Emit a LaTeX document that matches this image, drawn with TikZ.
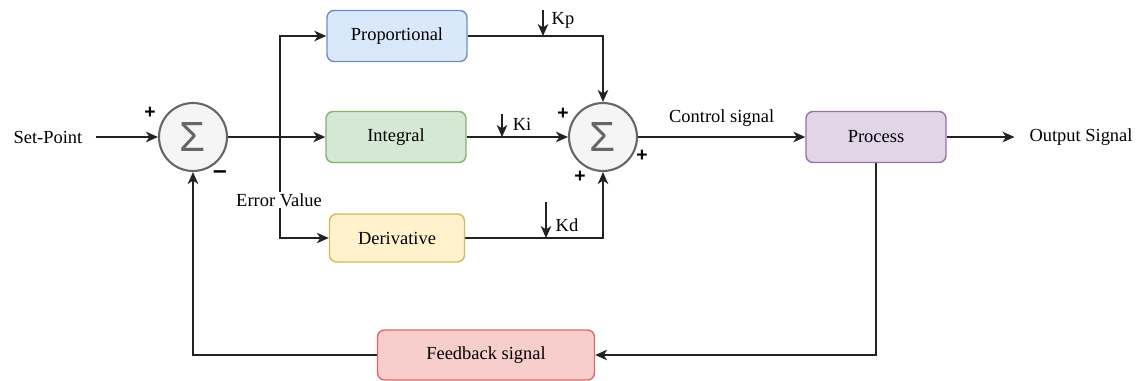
\documentclass[tikz,border=0pt]{standalone}
\usepackage{fontspec}
\setmainfont{Liberation Serif}
\setsansfont{Liberation Sans}
\usetikzlibrary{positioning}
\usetikzlibrary{backgrounds}
\usetikzlibrary{arrows.meta}

\definecolor{propfill}{HTML}{DAE8FC}
\definecolor{propline}{HTML}{6C8EBF}
\definecolor{intfill}{HTML}{D5E8D4}
\definecolor{intline}{HTML}{82B366}
\definecolor{derfill}{HTML}{FFF2CC}
\definecolor{derline}{HTML}{D6B656}
\definecolor{procfill}{HTML}{E1D5E7}
\definecolor{procline}{HTML}{9673A6}
\definecolor{fbfill}{HTML}{F8CECC}
\definecolor{fbline}{HTML}{E06666}
\definecolor{sumfill}{HTML}{F5F5F5}
\definecolor{sumline}{HTML}{666666}
\definecolor{wire}{HTML}{222222}

\begin{document}
\begin{tikzpicture}[x=0.02cm, y=-0.02cm,
		font=\fontsize{10.5}{12}\selectfont,
		>={Stealth[length=2.4mm,width=2.1mm,inset=0.7mm]},
		block/.style={draw, rectangle, rounded corners=4pt, line width=0.8pt, minimum width=2.8cm, minimum height=1.02cm},
		summer/.style={draw=sumline, fill=sumfill, circle, line width=1.2pt, minimum size=1.36cm, inner sep=0pt, text=sumline, font=\sffamily\fontsize{24}{24}\selectfont},
		sign/.style={inner sep=0pt, font=\sffamily\bfseries\fontsize{11}{11}\selectfont},
		wires/.style={draw=wire, line width=0.9pt}
	]
		\useasboundingbox (0,0) rectangle (1137,381);

		\node (sp) at (48,137) {Set-Point};
		\node[summer] (s1) at (193,137) {Σ};
		\coordinate (br) at (280,137);

		\node[block, fill=propfill, draw=propline] at (397,36) (prop) {Proportional};
		\node[block, fill=intfill, draw=intline] at (396,137) (int) {Integral};
		\node[block, fill=derfill, draw=derline, minimum width=2.7cm, minimum height=0.96cm] at (397,238) (der) {Derivative};

		\node[summer] (s2) at (603,137) {Σ};
		\node[block, fill=procfill, draw=procline] at (876,137) (proc) {Process};
		\node (out) at (1081,137) {Output Signal};
		\node[block, fill=fbfill, draw=fbline, minimum width=4.34cm, minimum height=1cm] at (486,355) (fb) {Feedback signal};

		\node[fill=white, inner sep=1pt] (err) at (279,200) {Error Value};

		% gains
		\coordinate (kpa) at (543,10);
		\coordinate (kia) at (502,114);
		\coordinate (kda) at (546,202);
		\node (kp) at (563,20) {Kp};
		\node (ki) at (522,124) {Ki};
		\node (kd) at (567,225) {Kd};

		% signs
		\node[sign] (p1) at (150,113) {+};
		\node[sign, font=\sffamily\bfseries\fontsize{14}{14}\selectfont] (m1) at (220,175) {–};
		\node[sign] (p2) at (563,114) {+};
		\node[sign] (p3) at (580,177) {+};
		\node[sign] (p4) at (642,156) {+};

		\begin{scope}[on background layer]
			\draw[wires,->, shorten <=4pt] (sp) -- (s1);
			\draw[wires,->] (s1) -- (int);
			\draw[wires,->] (br) |- (prop);
			\draw[wires,->] (br) |- (der);
			\draw[wires,->] (prop) -| (s2);
			\draw[wires,->] (int) -- (s2);
			\draw[wires,->] (der) -| (s2);
			\draw[wires,->] (s2) -- (proc) node[midway, above=2pt] (ctl) {Control signal};
			\draw[wires,->, shorten >=5pt] (proc) -- (out);
			\draw[wires,->] (proc) |- (fb);
			\draw[wires,->] (fb) -| (s1);

			\draw[wires,->] (kpa) -- (kpa |- prop);
			\draw[wires,->] (kia) -- (kia |- int);
			\draw[wires,->] (kda) -- (kda |- der);
		\end{scope}
	\end{tikzpicture}
\end{document}
